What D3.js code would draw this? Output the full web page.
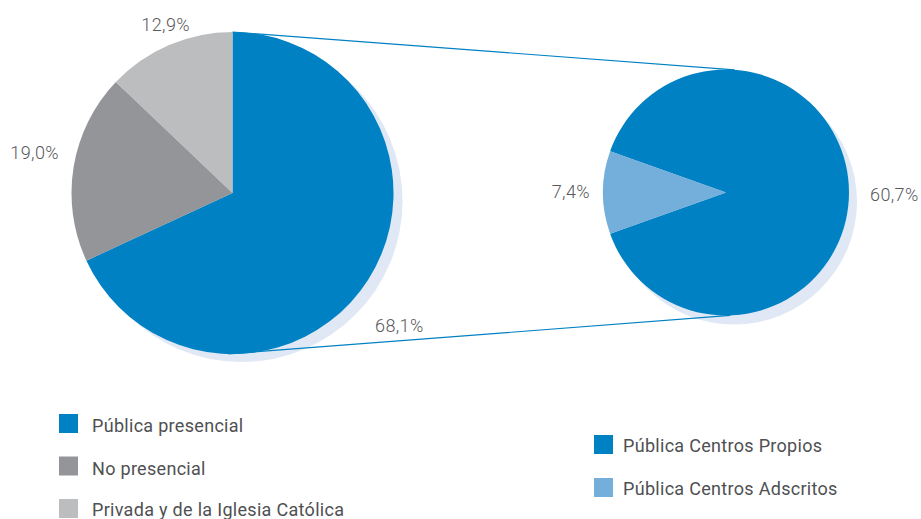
<!DOCTYPE html>
<html><head><meta charset="utf-8">
<script src="https://cdn.jsdelivr.net/npm/d3@7"></script>
<style>body{margin:0;background:#fff}svg{display:block}text{font-family:Roboto,"Open Sans",sans-serif}</style>
</head><body>
<svg id="c" width="921" height="519"></svg>
<script>
const mainCategories = ["Pública presencial", "No presencial", "Privada y de la Iglesia Católica"];
const mainValues = [68.1, 19.0, 12.9];
const mainLabels = ["68,1%", "19,0%", "12,9%"];
const subCategories = ["Pública Centros Propios", "Pública Centros Adscritos"];
const subValues = [60.7, 7.4];
const subLabels = ["60,7%", "7,4%"];
const mainColors = ["#0081c3", "#939598", "#bcbdbf"];
const subColors = ["#0081c3", "#74afdb"];

const svg = d3.select("#c");
const shadow = "#dfe8f4";
const textCol = "#58595b";

const L = {cx: 232.5, cy: 193, r: 161};
const R = {cx: 726, cy: 192.5, r: 123};

svg.append("circle").attr("cx", L.cx + 9).attr("cy", L.cy + 8).attr("r", L.r).attr("fill", shadow);
svg.append("circle").attr("cx", R.cx + 8).attr("cy", R.cy + 9).attr("r", R.r).attr("fill", shadow);

const pieMain = d3.pie().sort(null).value(d => d)(mainValues);
const arcL = d3.arc().innerRadius(0).outerRadius(L.r);
svg.append("g").attr("transform", `translate(${L.cx},${L.cy})`)
  .selectAll("path").data(pieMain).join("path")
  .attr("d", arcL).attr("fill", (d, i) => mainColors[i]);

const subTotal = d3.sum(subValues);
const aSpan = subValues[1] / subTotal * 2 * Math.PI;
const start = -Math.PI / 2 + aSpan / 2;
const pieSub = d3.pie().sort(null).value(d => d).startAngle(start).endAngle(start + 2 * Math.PI)(subValues);
const arcR = d3.arc().innerRadius(0).outerRadius(R.r);
svg.append("g").attr("transform", `translate(${R.cx},${R.cy})`)
  .selectAll("path").data(pieSub).join("path")
  .attr("d", arcR).attr("fill", (d, i) => subColors[i]);

function pt(c, ang) { return [c.cx + c.r * Math.sin(ang), c.cy - c.r * Math.cos(ang)]; }
const deg = Math.PI / 180;
const conns = [[pt(L, 0), pt(R, 4 * deg)], [pt(L, 181.5 * deg), pt(R, 178 * deg)]];
svg.append("g").selectAll("line").data(conns).join("line")
  .attr("x1", d => d[0][0]).attr("y1", d => d[0][1])
  .attr("x2", d => d[1][0]).attr("y2", d => d[1][1])
  .attr("stroke", "#0081c3").attr("stroke-width", 1.2);

const lblFont = 18;
const mainLabelPos = [[375, 332, "start"], [59, 159, "end"], [190, 31, "end"]];
svg.append("g").selectAll("text").data(mainLabels).join("text")
  .attr("x", (d, i) => mainLabelPos[i][0]).attr("y", (d, i) => mainLabelPos[i][1])
  .attr("text-anchor", (d, i) => mainLabelPos[i][2])
  .attr("font-size", lblFont).attr("letter-spacing", 0.4)
  .attr("fill", textCol).attr("font-weight", 300).text(d => d);
const subLabelPos = [[870, 201, "start"], [590, 198, "end"]];
svg.append("g").selectAll("text").data(subLabels).join("text")
  .attr("x", (d, i) => subLabelPos[i][0]).attr("y", (d, i) => subLabelPos[i][1])
  .attr("text-anchor", (d, i) => subLabelPos[i][2])
  .attr("font-size", lblFont).attr("letter-spacing", 0.4)
  .attr("fill", textCol).attr("font-weight", 300).text(d => d);

const legFont = 18;
const lg1 = svg.append("g").attr("transform", "translate(59,414)");
const it1 = lg1.selectAll("g").data(mainCategories).join("g").attr("transform", (d, i) => `translate(0,${i * 42.5})`);
it1.append("rect").attr("width", 19).attr("height", 19).attr("fill", (d, i) => mainColors[i]);
it1.append("text").attr("x", 33).attr("y", (d, i) => i === 2 ? 16.5 : 18)
  .attr("font-size", legFont).attr("letter-spacing", 0.3).attr("fill", "#4f5052").text(d => d);

const lg2 = svg.append("g").attr("transform", "translate(594,435)");
const it2 = lg2.selectAll("g").data(subCategories).join("g").attr("transform", (d, i) => `translate(0,${i * 43})`);
it2.append("rect").attr("width", 19).attr("height", 19).attr("fill", (d, i) => subColors[i]);
it2.append("text").attr("x", 29).attr("y", 17)
  .attr("font-size", legFont).attr("letter-spacing", 0.3).attr("fill", "#4f5052").text(d => d);
</script>
</body></html>
